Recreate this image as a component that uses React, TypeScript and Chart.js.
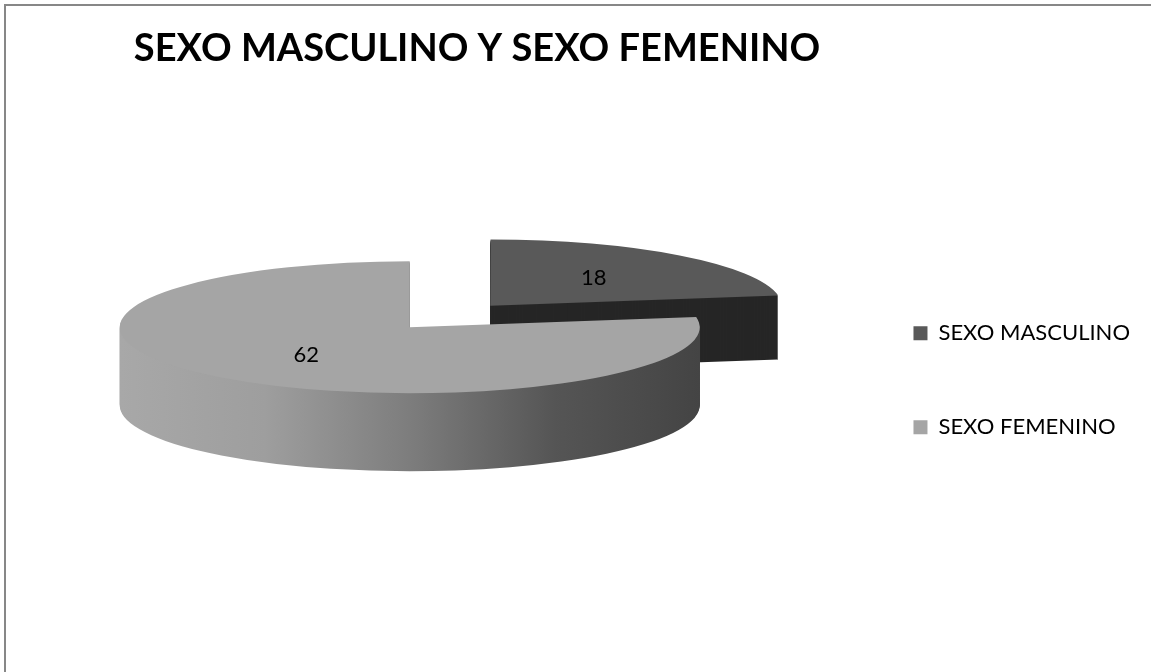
import React, { useEffect, useRef } from "react";
import { Chart, registerables } from "chart.js";

Chart.register(...registerables);

// ---- data ----
const TITLE = "SEXO MASCULINO Y SEXO FEMENINO";
const CATEGORIES = ["SEXO MASCULINO", "SEXO FEMENINO"];
const VALUES = [18, 62];

// ---- style ----
const TOP_COLORS = ["#595959", "#a5a5a5"];
const SIDE_DARK = "#262626";
const FONT = "Lato, 'Open Sans', sans-serif";
const RX = 290; // projected horizontal radius
const RY = 66; // projected vertical radius
const DEPTHS = [64, 78]; // thickness of each 3D slice (back slice looks thinner)
const SHIFT = 53; // top face lifted above the box centre
const XSHIFT = -11; // small horizontal nudge of the plot
const EXPLODE = 0.461; // explode distance relative to plot size
const LABEL_R = 0.55;

function sideFill(ctx: CanvasRenderingContext2D, i: number, arc: any) {
  if (i === 0) return SIDE_DARK;
  const g = ctx.createLinearGradient(arc.x - arc.outerRadius, 0, arc.x + arc.outerRadius, 0);
  g.addColorStop(0, "#a8a8a8");
  g.addColorStop(0.25, "#9e9e9e");
  g.addColorStop(0.5, "#7d7d7d");
  g.addColorStop(0.75, "#555555");
  g.addColorStop(1, "#444444");
  return g;
}

const pie3d = {
  id: "pie3d",
  beforeDatasetsDraw(chart: any) {
    const meta = chart.getDatasetMeta(0);
    const arcs = meta.data;
    if (!arcs.length) return false;
    const ctx: CanvasRenderingContext2D = chart.ctx;
    const ref = arcs[1];
    const r = ref.outerRadius;
    const sx = RX / r;
    const sy = RY / r;
    const project = (dy: number) => {
      ctx.translate(ref.x + XSHIFT, ref.y - SHIFT + dy);
      ctx.scale(sx, sy);
      ctx.translate(-ref.x, -ref.y);
    };
    arcs.forEach((arc: any, i: number) => {
      const orig = arc.options;
      const side = sideFill(ctx, i, arc);
      arc.options = { ...orig, backgroundColor: side, borderColor: side, borderWidth: 0 };
      for (let d = DEPTHS[i]; d >= 1; d--) {
        ctx.save();
        project(d);
        arc.draw(ctx);
        ctx.restore();
      }
      arc.options = orig;
      ctx.save();
      project(0);
      arc.draw(ctx);
      ctx.restore();
    });
    return false;
  },
  afterDraw(chart: any) {
    const meta = chart.getDatasetMeta(0);
    const arcs = meta.data;
    if (!arcs.length) return;
    const ctx: CanvasRenderingContext2D = chart.ctx;
    const ref = arcs[1];
    const r = ref.outerRadius;
    const sx = RX / r;
    const sy = RY / r;
    ctx.save();
    ctx.font = `22px ${FONT}`;
    ctx.fillStyle = "#000";
    ctx.textAlign = "center";
    ctx.textBaseline = "middle";
    arcs.forEach((arc: any, i: number) => {
      const { x, y, startAngle, endAngle, outerRadius } = arc.getProps(
        ["x", "y", "startAngle", "endAngle", "outerRadius"],
        true
      );
      const mid = (startAngle + endAngle) / 2;
      const off = (arc.options.offset || 0) / 4;
      const rr = off + LABEL_R * outerRadius;
      const px = x + XSHIFT + Math.cos(mid) * rr * sx;
      const py = y - SHIFT + Math.sin(mid) * rr * sy;
      ctx.fillText(String(chart.data.datasets[0].data[i]), px, py);
    });
    ctx.restore();
  },
};

export default function App() {
  const ref = useRef<HTMLCanvasElement | null>(null);
  useEffect(() => {
    document.body.style.margin = "0";
    const canvas = ref.current!;
    const chart = new Chart(canvas, {
      type: "pie",
      data: {
        labels: CATEGORIES,
        datasets: [
          {
            data: VALUES,
            backgroundColor: TOP_COLORS,
            borderWidth: 0,
            hoverOffset: 0,
            offset: (c: any) => {
              const a = c.chart.chartArea;
              if (!a || c.dataIndex !== 0) return 0;
              return EXPLODE * Math.min(a.right - a.left, a.bottom - a.top);
            },
          } as any,
        ],
      },
      options: {
        responsive: false,
        animation: false,
        events: [],
        layout: { padding: { left: -186, right: 11, top: 0, bottom: 3 } },
        plugins: {
          title: {
            display: true,
            text: TITLE,
            color: "#000",
            font: { family: FONT, size: 38, weight: "bold" },
            padding: { top: 26, bottom: 20 },
          },
          legend: {
            position: "right",
            align: "start",
            title: { display: true, text: "", padding: { top: 249, bottom: 0 }, font: { size: 1 } },
            labels: {
              boxWidth: 14,
              boxHeight: 14,
              padding: 72,
              color: "#000",
              font: { family: FONT, size: 22 },
            },
          },
          tooltip: { enabled: false },
        },
      } as any,
      plugins: [pie3d as any],
    });
    return () => chart.destroy();
  }, []);
  return (
    <div style={{ position: "relative", width: 1151, height: 672, overflow: "hidden", background: "#fff" }}>
      <canvas ref={ref} width={1151} height={672} style={{ position: "absolute", left: 0, top: 0 }} />
      <div
        style={{
          position: "absolute",
          left: 4,
          top: 4,
          width: 1300,
          height: 800,
          borderTop: "2px solid #878787",
          borderLeft: "2px solid #878787",
          pointerEvents: "none",
        }}
      />
    </div>
  );
}
